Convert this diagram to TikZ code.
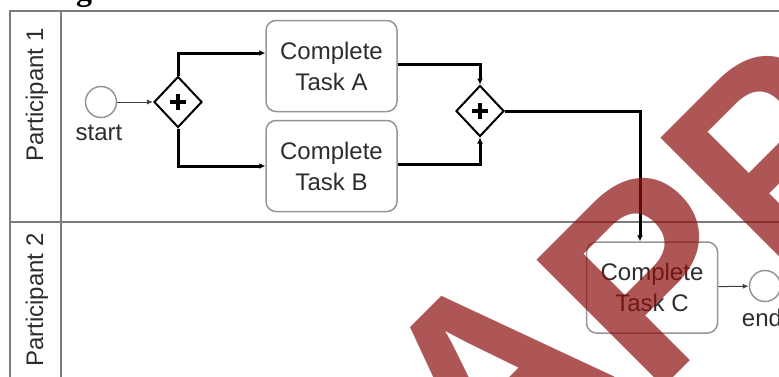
\documentclass[tikz,border=0pt]{standalone}
\usepackage{fontspec}
\setmainfont{Liberation Sans}
\newfontfamily\titlefont{Liberation Serif}
\usetikzlibrary{shapes.geometric,arrows.meta}
\definecolor{lanegray}{RGB}{125,125,125}
\definecolor{boxgray}{RGB}{150,150,150}
\definecolor{txt}{RGB}{45,45,45}
\definecolor{wm}{RGB}{140,15,15}
\begin{document}
\begin{tikzpicture}[x=1pt,y=-1pt,
  lanebox/.style={draw=lanegray,line width=1.6pt},
  task/.style={draw=boxgray,line width=1.5pt,rounded corners=10pt,fill=white,
    minimum width=131pt,minimum height=91pt,align=center,text=txt,
    font=\fontsize{24}{31}\selectfont,inner sep=0pt},
  gate/.style={diamond,draw=black,line width=2pt,fill=white,minimum width=48pt,
    minimum height=51pt,inner sep=0pt,
    path picture={\draw[line width=3.2pt,black]
      ([xshift=-8pt]path picture bounding box.center) -- ([xshift=8pt]path picture bounding box.center)
      ([yshift=-8pt]path picture bounding box.center) -- ([yshift=8pt]path picture bounding box.center);}},
  event/.style={circle,draw=boxgray,line width=1.5pt,fill=white,minimum size=31pt,inner sep=0pt},
  flow/.style={draw=black,line width=3pt,-{Latex[length=6pt,width=6pt]}},
  thinflow/.style={draw=black!75,line width=1pt,-{Latex[length=6pt,width=5pt]}},
  lbl/.style={text=txt,font=\fontsize{24}{28}\selectfont,inner sep=0pt},
  wmark/.style={text=wm,opacity=0.7,font=\fontsize{261}{261}\selectfont\bfseries,
    inner sep=0pt,anchor=base west,rotate=45}
]
\useasboundingbox (0,0) rectangle (779,376);
\fill[white] (0,0) rectangle (779,376);
% cut-off heading
\node[font=\fontsize{32}{32}\selectfont\titlefont\bfseries,anchor=base,inner sep=0pt,text=black] (title) at (84,0) {g};
% pool and lanes
\draw[lanebox] (10,390) -- (10,11) -- (800,11);
\draw[lanebox] (61,11) -- (61,390);
\draw[lanebox] (10,222) -- (800,222);
\node[lbl,rotate=90] (p1) at (37,95) {Participant 1};
\node[lbl,rotate=90] (p2) at (37,300) {Participant 2};
% elements
\node[event] (start) at (101,102) {};
\node[lbl] (startlbl) at (99,133) {start};
\node[gate] (g1) at (178,102) {};
\node[task] (ta) at (331.5,66) {Complete\\Task A};
\node[task] (tb) at (331.5,166) {Complete\\Task B};
\node[gate] (g2) at (480,111) {};
\node[task] (tc) at (652,287.5) {Complete\\Task C};
\node[event] (end) at (765,286) {};
\node[lbl] (endlbl) at (762,318) {end};
% flows
\draw[thinflow] (start) -- (g1);
\draw[flow] (g1.north) |- ([yshift=13pt]ta.west);
\draw[flow] (g1.south) |- (tb.west);
\draw[flow] ([yshift=2pt]ta.east) -| (g2.north);
\draw[flow] ([yshift=2pt]tb.east) -| (g2.south);
\draw[flow] (g2.east) -| ([xshift=-12pt]tc.north);
\draw[thinflow] (tc) -- (end);
% watermark
\node[wmark] (wa) at (486,506) {A};
\node[wmark] (wp1) at (651.6,399.8) {P};
\node[wmark] (wp2) at (775.6,277.8) {P};
\end{tikzpicture}
\end{document}
